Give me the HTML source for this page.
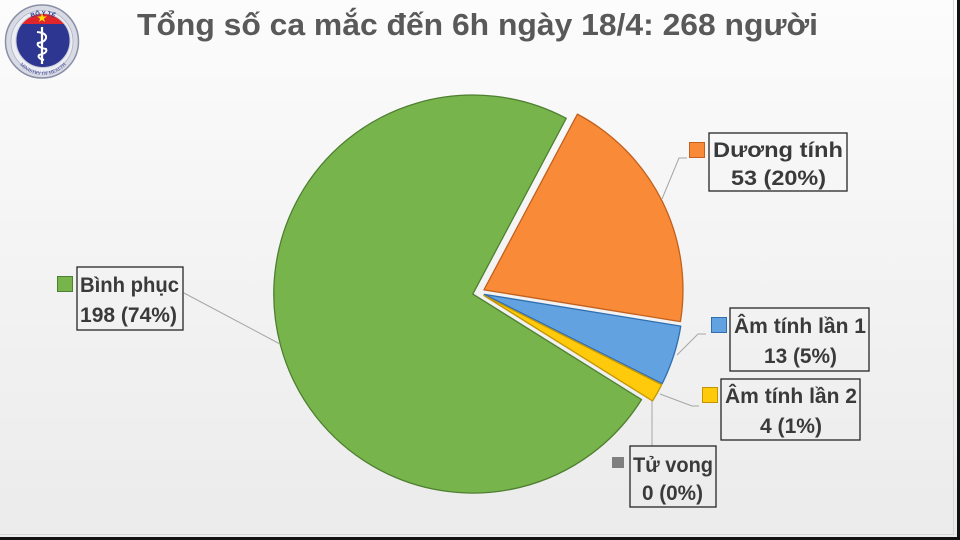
<!DOCTYPE html>
<html>
<head>
<meta charset="utf-8">
<style>
  html,body{margin:0;padding:0;}
  body{width:960px;height:540px;overflow:hidden;}
  svg{display:block;}
  .lbl{font-family:"Liberation Sans","DejaVu Sans",sans-serif;font-weight:bold;font-size:21px;fill:#3a3a3a;}
</style>
</head>
<body>
<svg width="960" height="540" viewBox="0 0 960 540" xmlns="http://www.w3.org/2000/svg">
  <defs>
    <linearGradient id="bg" x1="0" y1="0" x2="0" y2="1">
      <stop offset="0" stop-color="#fcfcfc"/>
      <stop offset="0.5" stop-color="#f3f3f3"/>
      <stop offset="1" stop-color="#ebebeb"/>
    </linearGradient>
    <path id="arcTop" d="M 16 42 A 27 27 0 0 1 70 42"/>
    <path id="arcBot" d="M 12 44 A 31 31 0 0 0 74 44"/>
  </defs>
  <rect x="0" y="0" width="960" height="540" fill="url(#bg)"/>
  <!-- borders -->
  <rect x="953" y="0" width="1" height="535" fill="#d6d6d6"/>
  <rect x="0" y="534" width="954" height="1" fill="#d6d6d6"/>
  <rect x="957" y="0" width="3" height="540" fill="#111"/>
  <rect x="0" y="537" width="960" height="3" fill="#111"/>

  <!-- logo -->
  <g>
    <circle cx="42" cy="41.5" r="36.5" fill="#d9dbe4" stroke="#8a8fa6" stroke-width="1.5"/>
    <circle cx="42" cy="41.5" r="31" fill="#eceef3" stroke="#b0b4c4" stroke-width="0.8"/>
    <clipPath id="inner"><circle cx="43" cy="40.5" r="27"/></clipPath>
    <g clip-path="url(#inner)">
      <rect x="10" y="10" width="70" height="70" fill="#2d3690"/>
      <rect x="10" y="10" width="70" height="14" fill="#e0252b"/>
    </g>
    <circle cx="43" cy="40.5" r="27" fill="none" stroke="#c8cad6" stroke-width="1"/>
    <polygon points="42,13 43.2,16.5 46.8,16.5 43.9,18.6 45,22 42,19.9 39,22 40.1,18.6 37.2,16.5 40.8,16.5" fill="#ffdd00"/>
    <line x1="42" y1="27" x2="42" y2="64" stroke="#fff" stroke-width="2.2"/>
    <path d="M 37 32 Q 47 33 46 38 Q 45 42 38 43 Q 36 47 46 49 Q 48 53 39 55 Q 37 58 44 60" fill="none" stroke="#fff" stroke-width="2"/>
    <text font-family="Liberation Sans, sans-serif" font-size="6" fill="#2d3690" font-weight="bold"><textPath href="#arcTop" startOffset="50%" text-anchor="middle">BỘ Y TẾ</textPath></text>
    <text font-family="Liberation Serif, serif" font-size="5" fill="#2d3690"><textPath href="#arcBot" startOffset="50%" text-anchor="middle">MINISTRY OF HEALTH</textPath></text>
  </g>

  <!-- title -->
  <text x="137" y="35" font-family="Liberation Sans, sans-serif" font-weight="bold" font-size="31" fill="#595959" textLength="681" lengthAdjust="spacingAndGlyphs">Tổng số ca mắc đến 6h ngày 18/4: 268 người</text>

  <!-- pie slices -->
  <!-- green -->
  <path d="M 472.80 294.05 L 641.50 399.60 A 199 199 0 1 1 566.23 118.35 Z" fill="#77b54c" stroke="#4f7f30" stroke-width="1.3" stroke-linejoin="round"/>
  <!-- orange -->
  <path d="M 483.97 289.83 L 577.40 114.13 A 199 199 0 0 1 680.42 321.61 Z" fill="#f88a38" stroke="#c3601c" stroke-width="1.3" stroke-linejoin="round"/>
  <!-- blue -->
  <path d="M 484.31 294.35 L 680.76 326.13 A 199 199 0 0 1 662.18 383.59 Z" fill="#62a2e1" stroke="#2f6fb0" stroke-width="1.3" stroke-linejoin="round"/>
  <!-- yellow -->
  <path d="M 483.83 295.44 L 661.70 384.68 A 199 199 0 0 1 652.53 400.99 Z" fill="#ffc90c" stroke="#c39500" stroke-width="1.3" stroke-linejoin="round"/>

  <!-- leader lines -->
  <g fill="none" stroke="#a6a6a6" stroke-width="1">
    <polyline points="184,293 280,344"/>
    <polyline points="687,158 679,158 662,199"/>
    <polyline points="706,334 698,334 677,355"/>
    <polyline points="660,394 692,406 699,406"/>
    <polyline points="652,401 652,446"/>
  </g>

  <!-- label boxes -->
  <g fill="none" stroke="#262626" stroke-width="1.3">
    <rect x="709" y="133" width="138" height="58"/>
    <rect x="730" y="308" width="139" height="63"/>
    <rect x="721" y="379" width="139" height="61"/>
    <rect x="630" y="446" width="86" height="61"/>
    <rect x="77" y="267" width="106" height="63"/>
  </g>

  <!-- legend markers -->
  <rect x="689.5" y="142.5" width="15" height="15" fill="#f88a38" stroke="#c3601c" stroke-width="1"/>
  <rect x="711.5" y="317.5" width="15" height="15" fill="#62a2e1" stroke="#2f6fb0" stroke-width="1"/>
  <rect x="702.5" y="387.5" width="15" height="15" fill="#ffc90c" stroke="#c39500" stroke-width="1"/>
  <rect x="612" y="457" width="12" height="11" fill="#7f7f7f"/>
  <rect x="57.5" y="276.5" width="15" height="15" fill="#77b54c" stroke="#4f7f30" stroke-width="1"/>

  <!-- label texts -->
  <text class="lbl" x="713" y="157" textLength="130" lengthAdjust="spacingAndGlyphs">Dương tính</text>
  <text class="lbl" x="731" y="185" textLength="95" lengthAdjust="spacingAndGlyphs">53 (20%)</text>

  <text class="lbl" x="734" y="333" textLength="132" lengthAdjust="spacingAndGlyphs">Âm tính lần 1</text>
  <text class="lbl" x="764" y="363" textLength="73" lengthAdjust="spacingAndGlyphs">13 (5%)</text>

  <text class="lbl" x="725" y="403" textLength="132" lengthAdjust="spacingAndGlyphs">Âm tính lần 2</text>
  <text class="lbl" x="760" y="433" textLength="62" lengthAdjust="spacingAndGlyphs">4 (1%)</text>

  <text class="lbl" x="633" y="472" textLength="80" lengthAdjust="spacingAndGlyphs">Tử vong</text>
  <text class="lbl" x="642" y="500" textLength="61" lengthAdjust="spacingAndGlyphs">0 (0%)</text>

  <text class="lbl" x="80" y="292" textLength="99" lengthAdjust="spacingAndGlyphs">Bình phục</text>
  <text class="lbl" x="80" y="322" textLength="97" lengthAdjust="spacingAndGlyphs">198 (74%)</text>
</svg>
</body>
</html>
